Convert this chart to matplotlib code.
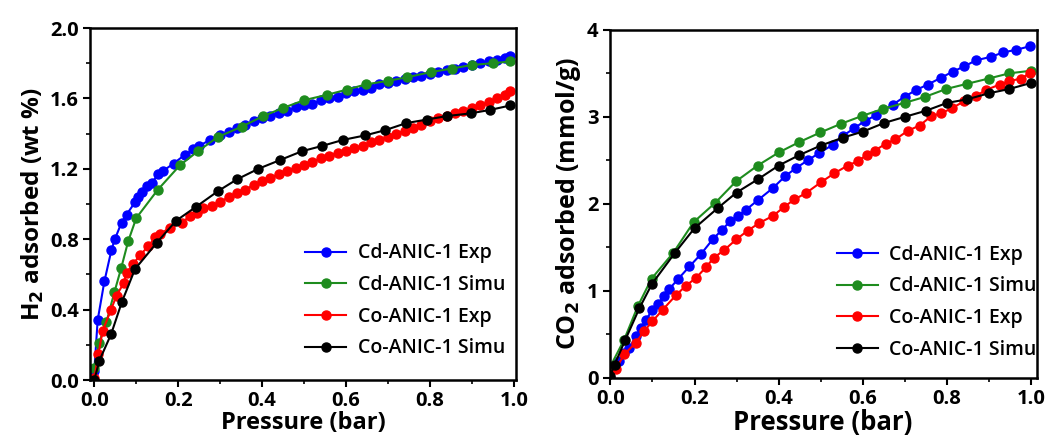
import matplotlib
matplotlib.use("Agg")
import matplotlib.pyplot as plt
from matplotlib.ticker import MultipleLocator, FormatStrFormatter

plt.rcParams['font.family'] = ['Open Sans', 'DejaVu Sans']
plt.rcParams['mathtext.default'] = 'bf'

# ---- H2 uptake (wt %) vs pressure (bar) ----
h2_cd_exp_p = [0.0, 0.008, 0.024, 0.041, 0.049, 0.065, 0.077, 0.097, 0.105, 0.113, 0.125,
               0.137, 0.153, 0.165, 0.189, 0.216, 0.236, 0.25, 0.276, 0.30, 0.32, 0.34,
               0.36, 0.38, 0.40, 0.42, 0.44, 0.46, 0.48, 0.50, 0.52, 0.54, 0.56, 0.58,
               0.60, 0.62, 0.64, 0.66, 0.68, 0.70, 0.72, 0.74, 0.76, 0.78, 0.80, 0.82,
               0.84, 0.86, 0.88, 0.90, 0.92, 0.94, 0.96, 0.98, 0.992]
h2_cd_exp = [0.05, 0.34, 0.56, 0.74, 0.80, 0.895, 0.94, 1.01, 1.04, 1.07, 1.10,
             1.12, 1.17, 1.19, 1.23, 1.28, 1.31, 1.33, 1.365, 1.39, 1.41, 1.43,
             1.45, 1.47, 1.49, 1.50, 1.52, 1.53, 1.55, 1.56, 1.57, 1.59, 1.60, 1.61,
             1.63, 1.64, 1.65, 1.66, 1.68, 1.69, 1.70, 1.71, 1.72, 1.73, 1.74, 1.75,
             1.76, 1.77, 1.78, 1.79, 1.80, 1.81, 1.82, 1.83, 1.84]

h2_cd_sim_p = [0.0, 0.011, 0.029, 0.048, 0.064, 0.081, 0.10, 0.151, 0.204, 0.247, 0.294,
               0.352, 0.403, 0.449, 0.50, 0.554, 0.602, 0.648, 0.70, 0.745, 0.803,
               0.853, 0.90, 0.95, 0.992]
h2_cd_sim = [0.066, 0.21, 0.33, 0.50, 0.635, 0.79, 0.92, 1.08, 1.22, 1.30, 1.38,
             1.44, 1.50, 1.545, 1.59, 1.62, 1.65, 1.68, 1.70, 1.72, 1.75,
             1.77, 1.79, 1.80, 1.81]

h2_co_exp_p = [0.0, 0.01, 0.02, 0.04, 0.053, 0.07, 0.077, 0.093, 0.109, 0.129, 0.145,
               0.157, 0.18, 0.208, 0.228, 0.244, 0.26, 0.28, 0.30, 0.32, 0.34, 0.36,
               0.38, 0.40, 0.42, 0.44, 0.46, 0.48, 0.50, 0.52, 0.54, 0.56, 0.58, 0.60,
               0.62, 0.64, 0.66, 0.68, 0.70, 0.72, 0.74, 0.76, 0.78, 0.80, 0.82, 0.84,
               0.86, 0.88, 0.90, 0.92, 0.94, 0.96, 0.98, 0.992]
h2_co_exp = [0.01, 0.15, 0.28, 0.40, 0.48, 0.55, 0.61, 0.66, 0.71, 0.76, 0.81,
             0.83, 0.865, 0.895, 0.93, 0.95, 0.975, 0.99, 1.01, 1.04, 1.06, 1.08,
             1.11, 1.13, 1.15, 1.17, 1.19, 1.205, 1.22, 1.24, 1.26, 1.275, 1.29, 1.30,
             1.32, 1.33, 1.35, 1.365, 1.38, 1.40, 1.415, 1.43, 1.45, 1.47, 1.49, 1.50,
             1.515, 1.53, 1.545, 1.56, 1.58, 1.60, 1.62, 1.64]

h2_co_sim_p = [0.0, 0.012, 0.04, 0.066, 0.097, 0.149, 0.195, 0.243, 0.296, 0.34, 0.391,
               0.443, 0.495, 0.543, 0.594, 0.646, 0.694, 0.744, 0.793, 0.841, 0.897,
               0.944, 0.992]
h2_co_sim = [0.0, 0.11, 0.26, 0.445, 0.63, 0.78, 0.905, 0.985, 1.075, 1.14, 1.20,
             1.25, 1.30, 1.33, 1.365, 1.39, 1.42, 1.46, 1.48, 1.50, 1.515,
             1.535, 1.56]

# ---- CO2 uptake (mmol/g) vs pressure (bar) ----
co2_cd_exp_p = [0.0, 0.02, 0.033, 0.045, 0.061, 0.073, 0.085, 0.10, 0.113, 0.128, 0.14,
                0.16, 0.188, 0.215, 0.243, 0.265, 0.285, 0.303, 0.322, 0.35, 0.386,
                0.416, 0.441, 0.469, 0.495, 0.529, 0.552, 0.58, 0.604, 0.632, 0.671,
                0.699, 0.727, 0.754, 0.786, 0.814, 0.841, 0.869, 0.905, 0.933, 0.964,
                0.996]
co2_cd_exp = [0.0, 0.19, 0.29, 0.34, 0.48, 0.57, 0.67, 0.78, 0.85, 0.94, 1.02,
              1.13, 1.28, 1.42, 1.59, 1.70, 1.80, 1.86, 1.93, 2.04, 2.18,
              2.32, 2.41, 2.50, 2.58, 2.68, 2.78, 2.87, 2.95, 3.02, 3.14,
              3.23, 3.31, 3.37, 3.45, 3.52, 3.58, 3.65, 3.69, 3.74, 3.77,
              3.81]

co2_cd_sim_p = [0.0, 0.033, 0.065, 0.098, 0.15, 0.198, 0.249, 0.299, 0.35, 0.40, 0.449,
                0.499, 0.548, 0.598, 0.647, 0.699, 0.748, 0.798, 0.848, 0.899, 0.948,
                1.0]
co2_cd_sim = [0.13, 0.44, 0.82, 1.14, 1.44, 1.79, 2.01, 2.26, 2.44, 2.59, 2.71,
              2.82, 2.92, 3.01, 3.09, 3.16, 3.23, 3.32, 3.38, 3.44, 3.50,
              3.53]

co2_co_exp_p = [0.0, 0.013, 0.033, 0.06, 0.081, 0.10, 0.124, 0.156, 0.18, 0.204, 0.227,
                0.246, 0.271, 0.299, 0.326, 0.354, 0.386, 0.412, 0.437, 0.464, 0.501,
                0.532, 0.564, 0.588, 0.609, 0.628, 0.654, 0.677, 0.707, 0.735, 0.763,
                0.786, 0.812, 0.841, 0.869, 0.893, 0.925, 0.948, 0.976, 0.996]
co2_co_exp = [0.0, 0.10, 0.27, 0.40, 0.54, 0.65, 0.78, 0.95, 1.06, 1.15, 1.27,
              1.38, 1.47, 1.59, 1.69, 1.78, 1.86, 1.96, 2.05, 2.12, 2.25,
              2.35, 2.44, 2.49, 2.56, 2.61, 2.69, 2.74, 2.84, 2.90, 3.01,
              3.04, 3.10, 3.18, 3.24, 3.31, 3.37, 3.41, 3.44, 3.50]

co2_co_sim_p = [0.0, 0.01, 0.035, 0.069, 0.099, 0.154, 0.20, 0.255, 0.30, 0.35, 0.40,
                0.449, 0.50, 0.552, 0.60, 0.651, 0.70, 0.75, 0.80, 0.847, 0.899,
                0.948, 1.0]
co2_co_sim = [0.02, 0.15, 0.43, 0.80, 1.08, 1.44, 1.72, 1.95, 2.13, 2.28, 2.44,
              2.56, 2.67, 2.76, 2.83, 2.93, 3.00, 3.07, 3.16, 3.20, 3.27,
              3.32, 3.39]

labels = ['Cd-ANIC-1 Exp', 'Cd-ANIC-1 Simu', 'Co-ANIC-1 Exp', 'Co-ANIC-1 Simu']
colors = ['#0000ff', '#1e8c1e', '#ff0000', '#000000']

h2_series = [(h2_cd_exp_p, h2_cd_exp), (h2_cd_sim_p, h2_cd_sim),
             (h2_co_exp_p, h2_co_exp), (h2_co_sim_p, h2_co_sim)]
co2_series = [(co2_cd_exp_p, co2_cd_exp), (co2_cd_sim_p, co2_cd_sim),
              (co2_co_exp_p, co2_co_exp), (co2_co_sim_p, co2_co_sim)]

fig = plt.figure(figsize=(10.6, 4.45), dpi=100)
ax1 = fig.add_axes([0.085, 0.146, 0.402, 0.791])
ax2 = fig.add_axes([0.575, 0.151, 0.403, 0.782])


def draw(ax, series):
    for (p, q), lab, c in zip(series, labels, colors):
        ax.plot(p, q, '-', color=c, lw=1.5, marker='o', ms=6.5, mec=c, mfc=c, label=lab)


draw(ax1, h2_series)
draw(ax2, co2_series)

for ax in (ax1, ax2):
    for s in ax.spines.values():
        s.set_linewidth(1.8)
    ax.xaxis.set_major_locator(MultipleLocator(0.2))
    ax.xaxis.set_minor_locator(MultipleLocator(0.1))
    ax.xaxis.set_major_formatter(FormatStrFormatter('%.1f'))
    ax.tick_params(which='major', direction='out', length=5, width=1.5,
                   labelsize=14.5, pad=3, top=False, right=False)
    ax.tick_params(which='minor', direction='out', length=3, width=1.2,
                   top=False, right=False)

ax1.set_xlim(-0.01, 1.006)
ax1.set_ylim(0, 2.0)
ax1.yaxis.set_major_locator(MultipleLocator(0.4))
ax1.yaxis.set_minor_locator(MultipleLocator(0.2))
ax1.yaxis.set_major_formatter(FormatStrFormatter('%.1f'))
ax1.set_xlabel('Pressure (bar)', fontsize=17, fontweight='bold', labelpad=0)
ax1.set_ylabel(r'H$_{2}$ adsorbed (wt %)', fontsize=17.5, fontweight='bold', labelpad=3)

ax2.set_xlim(-0.002, 1.013)
ax2.set_ylim(0, 4)
ax2.yaxis.set_major_locator(MultipleLocator(1))
ax2.yaxis.set_minor_locator(MultipleLocator(0.5))
ax2.set_xlabel('Pressure (bar)', fontsize=18.5, fontweight='bold', labelpad=0)
ax2.set_ylabel(r'CO$_{2}$ adsorbed (mmol/g)', fontsize=18, fontweight='bold', labelpad=3)

for ax in (ax1, ax2):
    for t in ax.get_xticklabels() + ax.get_yticklabels():
        t.set_fontweight('bold')

leg_kw = dict(frameon=False, handlelength=2.1, handletextpad=0.6,
              labelspacing=0.6, borderpad=0, borderaxespad=0, loc='center left',
              prop={'weight': 'semibold', 'size': 14})
ax1.legend(bbox_to_anchor=(0.505, 0.225), **leg_kw)
ax2.legend(bbox_to_anchor=(0.532, 0.217), **leg_kw)

fig.savefig('out.png', dpi=100)
